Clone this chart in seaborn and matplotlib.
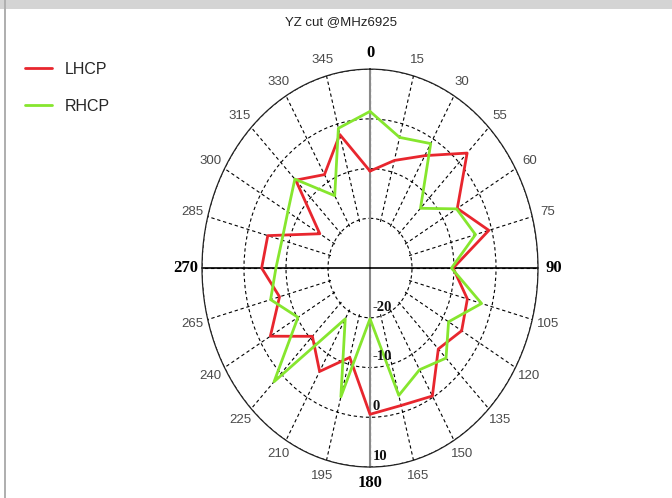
import numpy as np
import pandas as pd
import matplotlib
matplotlib.use('Agg')
import matplotlib.pyplot as plt
import matplotlib.transforms as mtransforms
from matplotlib.patches import Rectangle
import seaborn as sns

# pattern, dB every 15 deg (clockwise from top)
angles = np.arange(0, 360, 15)
lhcp = [-10.5, -7.6, -3.9, 2.7, -6.0, -0.7, -10.2, -6.0, -4.8, -7.0, -0.3, -1.4,
        -0.6, -11.4, -6.0, -10.6, -2.6, -7.7, -4.2, -4.8, -16.2, -5.0, -8.3, -2.2]
rhcp = [1.5, -2.8, -1.1, -13.0, -6.2, -4.0, -10.6, -2.5, -8.4, -4.4, -6.4, -3.5,
        -19.8, -3.2, -18.2, 2.3, -10.2, -5.5, -7.6, -8.3, -7.4, -4.7, -13.2, -0.9]
angle_labels = ['0', '15', '30', '55', '60', '75', '90', '105', '120', '135', '150', '165',
                '180', '195', '210', '225', '240', '265', '270', '285', '300', '315', '330', '345']
r_ticks = [-20, -10, 0, 10]
r_origin = -30

red = '#e8262e'
green = '#86e62e'

sns.set_style('white')

# close the loops
df = pd.DataFrame({'theta': np.deg2rad(np.r_[angles, 360]),
                   'LHCP': lhcp + lhcp[:1],
                   'RHCP': rhcp + rhcp[:1]})
long = df.melt(id_vars='theta', var_name='pol', value_name='gain')

fig = plt.figure(figsize=(6.72, 4.98), dpi=100)
fig.patch.set_facecolor('white')
ax = fig.add_axes([0.3006, 0.0622, 0.5, 0.799], projection='polar')
ax.set_theta_zero_location('N')
ax.set_theta_direction(-1)

sns.lineplot(data=long, x='theta', y='gain', hue='pol', palette={'LHCP': red, 'RHCP': green},
             estimator=None, sort=False, linewidth=2, ax=ax)

# a little room below -20 so that ring is not cut by the hole
ax.set_ylim(r_ticks[0] - 0.4, r_ticks[-1])
ax.set_rorigin(r_origin)
ax.set_aspect('auto')
ax.set_xlabel('')
ax.set_ylabel('')

# grid
ax.set_rgrids(r_ticks, labels=[''] * len(r_ticks))
ax.set_thetagrids(angles, angle_labels, fontsize=9.5, color='#4a4a4a', family='Liberation Sans')
ax.grid(True, color='black', linestyle=(0, (3, 2.5)), linewidth=0.8)
ax.spines['polar'].set_color('#222222')
ax.spines['polar'].set_linewidth(0.9)
ax.spines['inner'].set_color('none')
ax.tick_params(axis='x', pad=1)

for ang, lab in zip(angles, ax.xaxis.get_majorticklabels()):
    if ang % 90 == 0:
        lab.set_fontweight('bold')
        lab.set_family('Liberation Serif')
        lab.set_fontsize(12)
        lab.set_color('black')

# cross lines through the centre
ax.plot([0, 0], [r_ticks[-1], r_origin], color='#8a8a8a', lw=1.5, clip_on=False, zorder=1)
ax.plot([np.pi, np.pi], [r_ticks[-1], r_origin], color='#8a8a8a', lw=1.5, clip_on=False, zorder=1)
ax.plot([np.pi / 2, np.pi / 2], [r_ticks[-1], r_origin], color='black', lw=1.2, clip_on=False, zorder=1)
ax.plot([3 * np.pi / 2, 3 * np.pi / 2], [r_ticks[-1], r_origin], color='black', lw=1.2, clip_on=False, zorder=1)

# radial labels just right of the 180 line
off = mtransforms.offset_copy(ax.transData, fig=fig, x=2, y=3, units='points')
for r in r_ticks:
    ax.text(np.pi, r, str(r), transform=off, ha='left', va='bottom', fontsize=10.5,
            fontweight='bold', family='Liberation Serif', color='#111111', zorder=5)

handles, labels = ax.get_legend_handles_labels()
ax.get_legend().remove()
fig.legend(handles, labels, loc='upper left', bbox_to_anchor=(0.016, 0.905), frameon=False,
           prop={'family': 'Liberation Sans', 'size': 11.5}, handlelength=1.7,
           handletextpad=0.75, labelspacing=1.4)

fig.text(0.508, 0.956, 'YZ cut @MHz6925', ha='center', va='center', fontsize=9.5,
         family='Liberation Sans', color='#222222')

# window frame
fig.patches.append(Rectangle((0, 1 - 9 / 498), 1, 9 / 498, transform=fig.transFigure,
                             facecolor='#d4d4d4', edgecolor='none'))
fig.patches.append(Rectangle((4 / 672, 0), 2 / 672, 1, transform=fig.transFigure,
                             facecolor='#b0b0b0', edgecolor='none'))

fig.savefig('out.png', dpi=100)
